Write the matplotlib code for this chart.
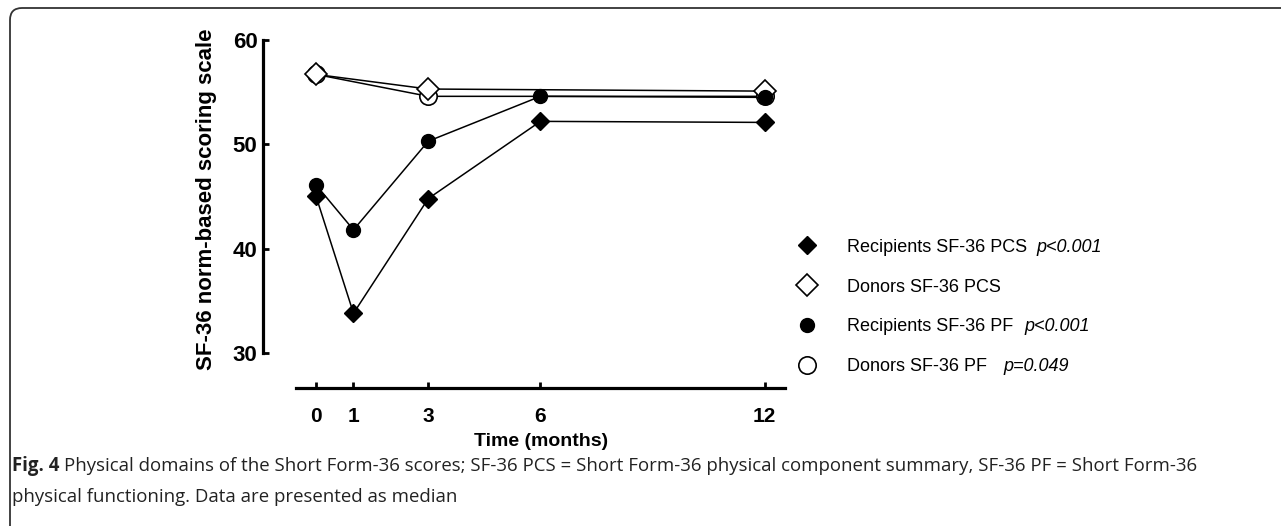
import matplotlib
matplotlib.use("Agg")
import matplotlib.pyplot as plt
from matplotlib.lines import Line2D
from matplotlib.patches import FancyBboxPatch

# median scores
months_rec = [0, 1, 3, 6, 12]
months_don = [0, 3, 12]
rec_pcs = [45.0, 33.8, 44.8, 52.2, 52.1]
don_pcs = [56.7, 55.3, 55.1]
rec_pf = [46.1, 41.8, 50.3, 54.6, 54.5]
don_pf = [56.7, 54.6, 54.6]

labels = ["Recipients SF-36 PCS", "Donors SF-36 PCS",
          "Recipients SF-36 PF", "Donors SF-36 PF"]
pvalues = ["p<0.001", "", "p<0.001", "p=0.049"]
xticks = [0, 1, 3, 6, 12]
yticks = [30, 40, 50, 60]

plt.rcParams["font.family"] = ["Liberation Sans", "DejaVu Sans"]

W, H = 1281, 526
fig = plt.figure(figsize=(W / 100, H / 100), dpi=100)

# outer frame with rounded corner (only top/left visible)
frame = FancyBboxPatch((10, -40), W + 60, H - 8 + 40,
                       boxstyle="round,pad=0,rounding_size=12",
                       transform=None, facecolor="none",
                       edgecolor="#333333", linewidth=1.3)
fig.patches.append(frame)

ax = fig.add_axes([263 / W, (H - 388) / H, 522 / W, 348 / H])
ax.set_xlim(-1.42, 12.54)
ax.set_ylim(26.64, 60)

ax.plot(months_don, don_pf, color="black", lw=1.1, marker="o", ms=12.5,
        mfc="white", mec="black", mew=1.2, zorder=3)
ax.plot(months_don, don_pcs, color="black", lw=1.1, marker="D", ms=11,
        mfc="white", mec="black", mew=1.2, zorder=3)
ax.plot(months_rec, rec_pcs, color="black", lw=1.1, marker="D", ms=9,
        mfc="black", mec="black", zorder=4)
ax.plot(months_rec, rec_pf, color="black", lw=1.1, marker="o", ms=10,
        mfc="black", mec="black", zorder=4)

for s in ["top", "right"]:
    ax.spines[s].set_visible(False)
ax.spines["left"].set_bounds(30, 60)
ax.spines["bottom"].set_bounds(-0.54, 12.54)
for s in ["left", "bottom"]:
    ax.spines[s].set_linewidth(2.3)
ax.set_xticks(xticks)
ax.set_yticks(yticks)
ax.tick_params(axis="both", direction="in", length=4, width=2)
ax.tick_params(axis="y", labelsize=16, pad=4)
ax.tick_params(axis="x", labelsize=15, pad=14)
for t in ax.get_xticklabels() + ax.get_yticklabels():
    t.set_fontweight("bold")

ax.set_ylabel("SF-36 norm-based scoring scale", fontsize=16, fontweight="bold")
ax.yaxis.set_label_coords(-0.088, 0.543)
ax.set_xlabel("Time (months)", fontsize=14, fontweight="bold")
ax.xaxis.set_label_coords(0.533, -0.129)

handles = [
    Line2D([], [], ls="none", marker="D", ms=9, mfc="black", mec="black"),
    Line2D([], [], ls="none", marker="D", ms=11, mfc="white", mec="black", mew=1.2),
    Line2D([], [], ls="none", marker="o", ms=10, mfc="black", mec="black"),
    Line2D([], [], ls="none", marker="o", ms=12.5, mfc="white", mec="black", mew=1.2),
]
leg = fig.legend(handles, labels, loc="center left",
                 bbox_to_anchor=(798 / W, (H - 307) / H),
                 frameon=False, fontsize=13, handlelength=1.0,
                 handletextpad=1.7, labelspacing=1.27, borderpad=0,
                 borderaxespad=0)

# caption
cap_size = 13.4
cap = fig.text(12 / W, (H - 466) / H, "Fig. 4", fontsize=cap_size, fontweight="bold",
               family="Open Sans", va="center", ha="left", color="#222222")
fig.text(12 / W, (H - 497) / H, "physical functioning. Data are presented as median",
         fontsize=cap_size, family="Open Sans", va="center", ha="left", color="#222222")

# place p-values and the rest of caption line 1 after layout is known
fig.canvas.draw()
r = fig.canvas.get_renderer()
gaps = [10, 0, 11, 17]
for txt, p, g in zip(leg.get_texts(), pvalues, gaps):
    if p:
        bb = txt.get_window_extent(r)
        fig.text((bb.x1 + g) / W, (bb.y0 + bb.y1) / 2 / H, p, fontsize=13,
                 style="italic", va="center", ha="left")
bb = cap.get_window_extent(r)
fig.text((bb.x1 + 5) / W, (H - 466) / H,
         "Physical domains of the Short Form-36 scores; SF-36 PCS = Short Form-36 "
         "physical component summary, SF-36 PF = Short Form-36",
         fontsize=cap_size, family="Open Sans", va="center", ha="left", color="#222222")

fig.savefig("out.png", dpi=100)
